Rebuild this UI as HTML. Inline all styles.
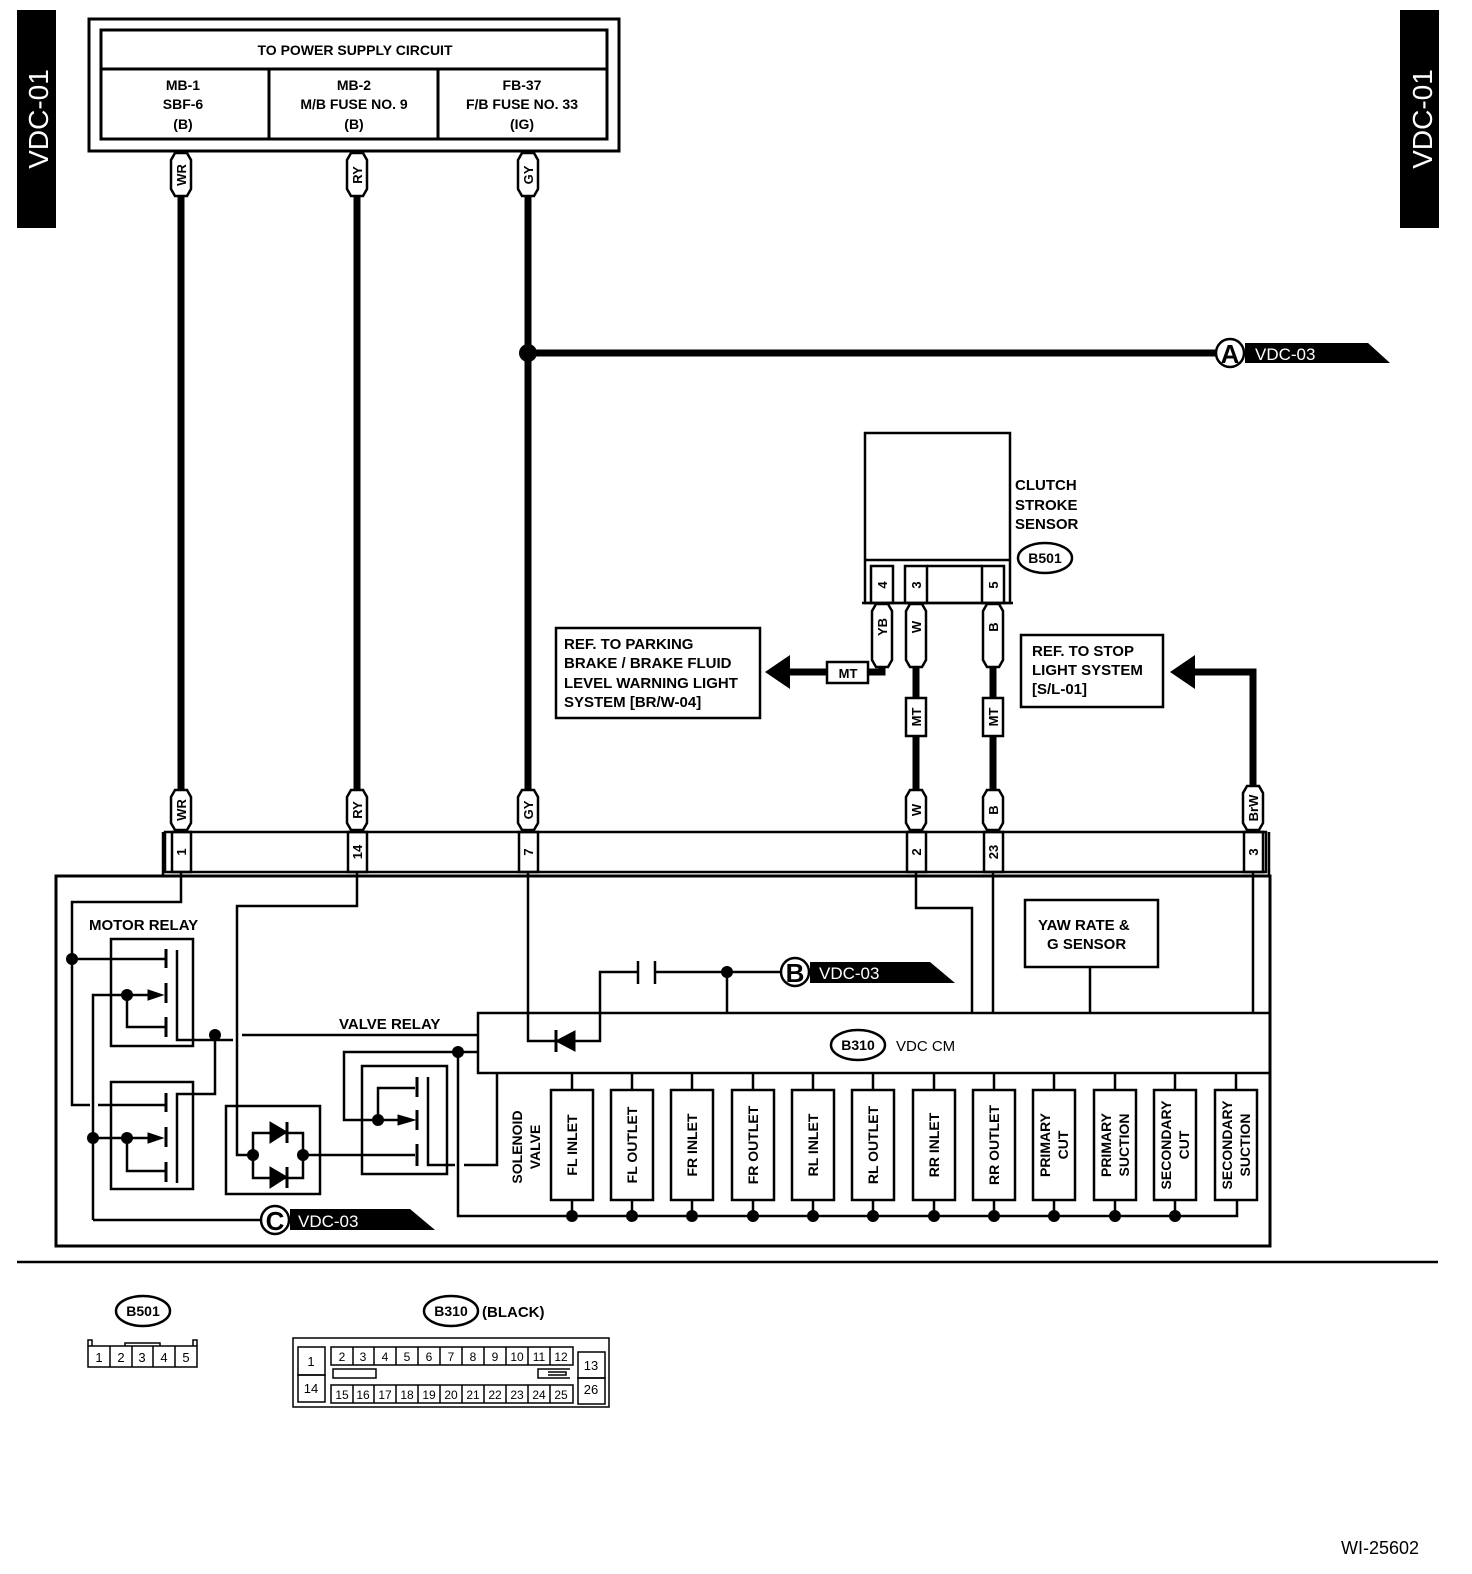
<!DOCTYPE html>
<html><head><meta charset="utf-8"><style>
html,body{margin:0;padding:0;background:#fff;}
svg{display:block;}
text{font-family:"Liberation Sans",sans-serif;font-weight:bold;fill:#000;}
text.n{font-weight:normal;}
</style></head><body>
<svg width="1472" height="1574" viewBox="0 0 1472 1574" xmlns="http://www.w3.org/2000/svg">
<g fill="none" stroke="#000" stroke-width="2.5">

<rect x="17" y="10" width="39" height="218" fill="#000" stroke="none"/>
<rect x="1400" y="10" width="39" height="218" fill="#000" stroke="none"/>

<rect x="89" y="19" width="530" height="132" stroke-width="3"/>
<rect x="101" y="30" width="506" height="109" stroke-width="3"/>
<line x1="101" y1="69" x2="607" y2="69" stroke-width="3"/>
<line x1="269" y1="69" x2="269" y2="139" stroke-width="3"/>
<line x1="438" y1="69" x2="438" y2="139" stroke-width="3"/>

<g stroke-width="7">
<line x1="181" y1="196" x2="181" y2="790"/>
<line x1="357" y1="196" x2="357" y2="790"/>
<line x1="528" y1="196" x2="528" y2="790"/>
<line x1="528" y1="353" x2="1216" y2="353"/>
<line x1="916" y1="667" x2="916" y2="790"/>
<line x1="993" y1="667" x2="993" y2="790"/>
<polyline points="882,667 882,672 868,672"/>
<polyline points="827,672 790,672"/>
<polyline points="1195,672 1253,672 1253,786"/>
</g>
<circle cx="528" cy="353" r="9" fill="#000" stroke="none"/>
<polygon points="765,672 790,655 790,689" fill="#000" stroke="none"/>
<polygon points="1170,672 1195,655 1195,689" fill="#000" stroke="none"/>

<circle cx="1230" cy="353" r="14" fill="#fff"/>
<polygon points="1245,343 1368,343 1390,363 1245,363" fill="#000" stroke="none"/>

<rect x="865" y="433" width="145" height="170"/>
<line x1="865" y1="560" x2="1010" y2="560"/>
<rect x="871" y="566" width="22" height="37"/>
<rect x="905" y="566" width="22" height="37"/>
<rect x="982" y="566" width="22" height="37"/>
<line x1="927" y1="566" x2="982" y2="566"/>
<line x1="862" y1="603" x2="1013" y2="603"/>
<ellipse cx="1045" cy="558" rx="27" ry="15"/>

<rect x="827" y="662" width="41" height="21" fill="#fff"/>
<rect x="906" y="698" width="20" height="38" fill="#fff"/>
<rect x="983" y="698" width="20" height="38" fill="#fff"/>

<rect x="556" y="628" width="204" height="90"/>
<rect x="1021" y="635" width="142" height="72"/>

<rect x="165" y="832" width="1101" height="40"/>
<line x1="163" y1="832" x2="163" y2="876"/>
<line x1="1269" y1="832" x2="1269" y2="876"/>
<rect x="172" y="832" width="19" height="40"/>
<rect x="348" y="832" width="19" height="40"/>
<rect x="519" y="832" width="19" height="40"/>
<rect x="907" y="832" width="19" height="40"/>
<rect x="984" y="832" width="19" height="40"/>
<rect x="1244" y="832" width="19" height="40"/>

<rect x="56" y="876" width="1214" height="370" stroke-width="3"/>

<polyline points="181,872 181,902 72,902 72,1105 90,1105"/>
<line x1="98" y1="1105" x2="166" y2="1105"/>
<line x1="72" y1="959" x2="166" y2="959"/>
<polyline points="357,872 357,906 237,906 237,1155 253,1155"/>
<polyline points="528,872 528,1041 556,1041"/>
<polyline points="575,1041 600,1041 600,972 638,972"/>
<line x1="638" y1="961" x2="638" y2="984" />
<line x1="655" y1="961" x2="655" y2="984" />
<line x1="655" y1="972" x2="781" y2="972"/>
<line x1="727" y1="972" x2="727" y2="1013"/>
<polyline points="916,872 916,908 972,908 972,1013"/>
<line x1="993" y1="872" x2="993" y2="1013"/>
<line x1="1253" y1="872" x2="1253" y2="1013"/>
<line x1="1090" y1="967" x2="1090" y2="1013"/>
<rect x="1025" y="900" width="133" height="67"/>

<rect x="111" y="939" width="82" height="107"/>
<rect x="111" y="1082" width="82" height="107"/>
<g stroke-width="3">
<line x1="166" y1="949" x2="166" y2="968"/>
<line x1="166" y1="983" x2="166" y2="1003"/>
<line x1="166" y1="1017" x2="166" y2="1037"/>
<line x1="166" y1="1093" x2="166" y2="1112"/>
<line x1="166" y1="1127" x2="166" y2="1147"/>
<line x1="166" y1="1162" x2="166" y2="1182"/>
</g>
<polyline points="177,950 177,1040 215,1040"/>
<polyline points="177,1183 177,1094 215,1094 215,1040"/>
<polyline points="93,1220 93,995 148,995"/>
<polyline points="127,995 127,1027 166,1027"/>
<line x1="93" y1="1138" x2="148" y2="1138"/>
<polyline points="127,1138 127,1171 166,1171"/>
<line x1="215" y1="1040" x2="233" y2="1040"/>
<line x1="242" y1="1035" x2="478" y2="1035"/>
<line x1="93" y1="1220" x2="261" y2="1220"/>

<rect x="226" y="1106" width="94" height="88"/>
<polyline points="253,1155 253,1133 303,1133 303,1155"/>
<polyline points="253,1155 253,1178 303,1178 303,1155"/>
<line x1="287" y1="1122" x2="287" y2="1143" stroke-width="3"/>
<line x1="287" y1="1167" x2="287" y2="1188" stroke-width="3"/>
<line x1="303" y1="1155" x2="415" y2="1155"/>

<rect x="362" y="1066" width="85" height="108"/>
<polyline points="478,1052 344,1052 344,1120 398,1120"/>
<polyline points="378,1120 378,1088 415,1088"/>
<g stroke-width="3">
<line x1="417" y1="1077" x2="417" y2="1097"/>
<line x1="417" y1="1110" x2="417" y2="1130"/>
<line x1="417" y1="1144" x2="417" y2="1166"/>
</g>
<polyline points="428,1077 428,1165 455,1165"/>
<polyline points="464,1165 497,1165 497,1073"/>
<polyline points="458,1052 458,1216 1237,1216 1237,1200"/>

<rect x="478" y="1013" width="792" height="60"/>
<ellipse cx="858" cy="1045" rx="27" ry="15"/>

<rect x="551" y="1090" width="42" height="110"/>
<rect x="611" y="1090" width="42" height="110"/>
<rect x="671" y="1090" width="42" height="110"/>
<rect x="732" y="1090" width="42" height="110"/>
<rect x="792" y="1090" width="42" height="110"/>
<rect x="852" y="1090" width="42" height="110"/>
<rect x="913" y="1090" width="42" height="110"/>
<rect x="973" y="1090" width="42" height="110"/>
<rect x="1033" y="1090" width="42" height="110"/>
<rect x="1094" y="1090" width="42" height="110"/>
<rect x="1154" y="1090" width="42" height="110"/>
<rect x="1215" y="1090" width="42" height="110"/>
<path d="M572 1073V1090M632 1073V1090M692 1073V1090M753 1073V1090M813 1073V1090M873 1073V1090M934 1073V1090M994 1073V1090M1054 1073V1090M1115 1073V1090M1175 1073V1090M1236 1073V1090"/>
<path d="M572 1200V1216M632 1200V1216M692 1200V1216M753 1200V1216M813 1200V1216M873 1200V1216M934 1200V1216M994 1200V1216M1054 1200V1216M1115 1200V1216M1175 1200V1216"/>

<circle cx="795" cy="972" r="14" fill="#fff"/>
<polygon points="810,962 930,962 955,983 810,983" fill="#000" stroke="none"/>
<circle cx="275" cy="1220" r="14" fill="#fff"/>
<polygon points="290,1209 410,1209 435,1230 290,1230" fill="#000" stroke="none"/>

<line x1="17" y1="1262" x2="1438" y2="1262"/>

<ellipse cx="143" cy="1311" rx="27" ry="15"/>
<g stroke-width="1.5">
<rect x="88" y="1346" width="109" height="21"/>
<path d="M110 1346V1367M132 1346V1367M153 1346V1367M175 1346V1367"/>
<path d="M88 1346V1340H92V1346M193 1346V1340H197V1346M125 1346V1343H160V1346"/>
<rect x="293" y="1338" width="316" height="69"/>
<rect x="298" y="1347" width="27" height="28"/>
<rect x="298" y="1375" width="27" height="27"/>
<rect x="578" y="1352" width="27" height="26"/>
<rect x="578" y="1378" width="27" height="26"/>
<rect x="331" y="1347" width="242" height="18"/>
<rect x="331" y="1385" width="242" height="18"/>
<path d="M353 1347V1365M374 1347V1365M396 1347V1365M418 1347V1365M440 1347V1365M462 1347V1365M484 1347V1365M506 1347V1365M528 1347V1365M550 1347V1365"/>
<path d="M353 1385V1403M374 1385V1403M396 1385V1403M418 1385V1403M440 1385V1403M462 1385V1403M484 1385V1403M506 1385V1403M528 1385V1403M550 1385V1403"/>
<rect x="333" y="1369" width="43" height="9"/>
<path d="M570 1369H538V1378H570M548 1372H566V1375H548"/>
</g>
<ellipse cx="451" cy="1311" rx="27" ry="15"/>
</g>

<g fill="#fff" stroke="#000" stroke-width="2.5">
<polygon points="171,160 175,153 187,153 191,160 191,189 187,196 175,196 171,189"/>
<polygon points="347,160 351,153 363,153 367,160 367,189 363,196 351,196 347,189"/>
<polygon points="518,160 522,153 534,153 538,160 538,189 534,196 522,196 518,189"/>
<polygon points="171,797 175,790 187,790 191,797 191,823 187,830 175,830 171,823"/>
<polygon points="347,797 351,790 363,790 367,797 367,823 363,830 351,830 347,823"/>
<polygon points="518,797 522,790 534,790 538,797 538,823 534,830 522,830 518,823"/>
<polygon points="906,797 910,790 922,790 926,797 926,823 922,830 910,830 906,823"/>
<polygon points="983,797 987,790 999,790 1003,797 1003,823 999,830 987,830 983,823"/>
<polygon points="1243,793 1247,786 1259,786 1263,793 1263,823 1259,830 1247,830 1243,823"/>
<polygon points="872,611 876,604 888,604 892,611 892,660 888,667 876,667 872,660"/>
<polygon points="906,611 910,604 922,604 926,611 926,660 922,667 910,667 906,660"/>
<polygon points="983,611 987,604 999,604 1003,611 1003,660 999,667 987,667 983,660"/>
</g>
<g stroke="#000" stroke-width="1">
<polygon points="556,1041 575,1031 575,1051" fill="#000"/>
<line x1="556" y1="1030" x2="556" y2="1052" stroke-width="3"/>
<polygon points="270,1122 287,1132 270,1143" fill="#000"/>
<polygon points="270,1167 287,1177 270,1188" fill="#000"/>
<polygon points="163,995 148,990 148,1000" fill="#000"/>
<polygon points="163,1138 148,1133 148,1143" fill="#000"/>
<polygon points="415,1120 398,1115 398,1125" fill="#000"/>
</g>
<g fill="#000">
<circle cx="72" cy="959" r="6"/><circle cx="127" cy="995" r="6"/><circle cx="93" cy="1138" r="6"/><circle cx="127" cy="1138" r="6"/>
<circle cx="215" cy="1035" r="6"/><circle cx="253" cy="1155" r="6"/><circle cx="303" cy="1155" r="6"/><circle cx="378" cy="1120" r="6"/><circle cx="458" cy="1052" r="6"/>
<circle cx="727" cy="972" r="6"/>
<circle cx="572" cy="1216" r="6"/><circle cx="632" cy="1216" r="6"/><circle cx="692" cy="1216" r="6"/><circle cx="753" cy="1216" r="6"/><circle cx="813" cy="1216" r="6"/><circle cx="873" cy="1216" r="6"/><circle cx="934" cy="1216" r="6"/><circle cx="994" cy="1216" r="6"/><circle cx="1054" cy="1216" r="6"/><circle cx="1115" cy="1216" r="6"/><circle cx="1175" cy="1216" r="6"/>
</g>

<text class="n" transform="translate(48,119) rotate(-90)" text-anchor="middle" font-size="28" style="fill:#fff">VDC-01</text>
<text class="n" transform="translate(1432,119) rotate(-90)" text-anchor="middle" font-size="28" style="fill:#fff">VDC-01</text>

<g font-size="14" text-anchor="middle">
<text x="355" y="55">TO POWER SUPPLY CIRCUIT</text>
<text x="183" y="90">MB-1</text><text x="183" y="109">SBF-6</text><text x="183" y="129">(B)</text>
<text x="354" y="90">MB-2</text><text x="354" y="109">M/B FUSE NO. 9</text><text x="354" y="129">(B)</text>
<text x="522" y="90">FB-37</text><text x="522" y="109">F/B FUSE NO. 33</text><text x="522" y="129">(IG)</text>
</g>
<g font-size="13" text-anchor="middle">
<text transform="translate(186,175) rotate(-90)">WR</text>
<text transform="translate(362,175) rotate(-90)">RY</text>
<text transform="translate(533,175) rotate(-90)">GY</text>
<text transform="translate(186,810) rotate(-90)">WR</text>
<text transform="translate(362,810) rotate(-90)">RY</text>
<text transform="translate(533,810) rotate(-90)">GY</text>
<text transform="translate(921,810) rotate(-90)">W</text>
<text transform="translate(998,810) rotate(-90)">B</text>
<text transform="translate(1258,808) rotate(-90)">BrW</text>
<text transform="translate(887,627) rotate(-90)">YB</text>
<text transform="translate(921,627) rotate(-90)">W</text>
<text transform="translate(998,627) rotate(-90)">B</text>
<text transform="translate(921,717) rotate(-90)">MT</text>
<text transform="translate(998,717) rotate(-90)">MT</text>
<text x="848" y="678">MT</text>
<text transform="translate(887,585) rotate(-90)">4</text>
<text transform="translate(921,585) rotate(-90)">3</text>
<text transform="translate(998,585) rotate(-90)">5</text>
<text transform="translate(186,852) rotate(-90)">1</text>
<text transform="translate(362,852) rotate(-90)">14</text>
<text transform="translate(533,852) rotate(-90)">7</text>
<text transform="translate(921,852) rotate(-90)">2</text>
<text transform="translate(998,852) rotate(-90)">23</text>
<text transform="translate(1258,852) rotate(-90)">3</text>
</g>
<g font-size="15">
<text x="1015" y="490">CLUTCH</text><text x="1015" y="510">STROKE</text><text x="1015" y="529">SENSOR</text>
<text x="564" y="649">REF. TO PARKING</text><text x="564" y="668">BRAKE / BRAKE FLUID</text><text x="564" y="688">LEVEL WARNING LIGHT</text><text x="564" y="707">SYSTEM [BR/W-04]</text>
<text x="1032" y="656">REF. TO STOP</text><text x="1032" y="675">LIGHT SYSTEM</text><text x="1032" y="694">[S/L-01]</text>
<text x="89" y="930">MOTOR RELAY</text>
<text x="339" y="1029">VALVE RELAY</text>
<text x="1038" y="930">YAW RATE &amp;</text><text x="1047" y="949">G SENSOR</text>
<text x="896" y="1051" class="n">VDC CM</text>
</g>
<g font-size="14" text-anchor="middle">
<text x="1045" y="563">B501</text>
<text x="858" y="1050">B310</text>
<text x="143" y="1316">B501</text>
<text x="451" y="1316">B310</text>
</g>
<text x="482" y="1317" font-size="15">(BLACK)</text>
<g font-size="26" text-anchor="middle">
<text x="1230" y="363">A</text><text x="795" y="982">B</text><text x="275" y="1230">C</text>
</g>
<g font-size="17">
<text class="n" x="1255" y="360" style="fill:#fff">VDC-03</text>
<text class="n" x="819" y="979" style="fill:#fff">VDC-03</text>
<text class="n" x="298" y="1227" style="fill:#fff">VDC-03</text>
</g>
<g font-size="14" text-anchor="middle">
<text transform="translate(522,1147) rotate(-90)">SOLENOID</text>
<text transform="translate(540,1147) rotate(-90)">VALVE</text>
<text transform="translate(577,1145) rotate(-90)">FL INLET</text>
<text transform="translate(637,1145) rotate(-90)">FL OUTLET</text>
<text transform="translate(697,1145) rotate(-90)">FR INLET</text>
<text transform="translate(758,1145) rotate(-90)">FR OUTLET</text>
<text transform="translate(818,1145) rotate(-90)">RL INLET</text>
<text transform="translate(878,1145) rotate(-90)">RL OUTLET</text>
<text transform="translate(939,1145) rotate(-90)">RR INLET</text>
<text transform="translate(999,1145) rotate(-90)">RR OUTLET</text>
<text transform="translate(1050,1145) rotate(-90)">PRIMARY</text><text transform="translate(1068,1145) rotate(-90)">CUT</text>
<text transform="translate(1111,1145) rotate(-90)">PRIMARY</text><text transform="translate(1129,1145) rotate(-90)">SUCTION</text>
<text transform="translate(1171,1145) rotate(-90)">SECONDARY</text><text transform="translate(1189,1145) rotate(-90)">CUT</text>
<text transform="translate(1232,1145) rotate(-90)">SECONDARY</text><text transform="translate(1250,1145) rotate(-90)">SUCTION</text>
</g>
<g font-size="13" text-anchor="middle">
<text class="n" x="99" y="1362">1</text><text class="n" x="121" y="1362">2</text><text class="n" x="142" y="1362">3</text><text class="n" x="164" y="1362">4</text><text class="n" x="186" y="1362">5</text>
<text class="n" x="311" y="1366">1</text><text class="n" x="311" y="1393">14</text><text class="n" x="591" y="1370">13</text><text class="n" x="591" y="1394">26</text>
</g>
<g font-size="12" text-anchor="middle">
<text class="n" x="342" y="1361">2</text><text class="n" x="363" y="1361">3</text><text class="n" x="385" y="1361">4</text><text class="n" x="407" y="1361">5</text><text class="n" x="429" y="1361">6</text><text class="n" x="451" y="1361">7</text><text class="n" x="473" y="1361">8</text><text class="n" x="495" y="1361">9</text><text class="n" x="517" y="1361">10</text><text class="n" x="539" y="1361">11</text><text class="n" x="561" y="1361">12</text>
<text class="n" x="342" y="1399">15</text><text class="n" x="363" y="1399">16</text><text class="n" x="385" y="1399">17</text><text class="n" x="407" y="1399">18</text><text class="n" x="429" y="1399">19</text><text class="n" x="451" y="1399">20</text><text class="n" x="473" y="1399">21</text><text class="n" x="495" y="1399">22</text><text class="n" x="517" y="1399">23</text><text class="n" x="539" y="1399">24</text><text class="n" x="561" y="1399">25</text>
</g>
<text class="n" x="1341" y="1554" font-size="18">WI-25602</text>
</svg>
</body></html>
